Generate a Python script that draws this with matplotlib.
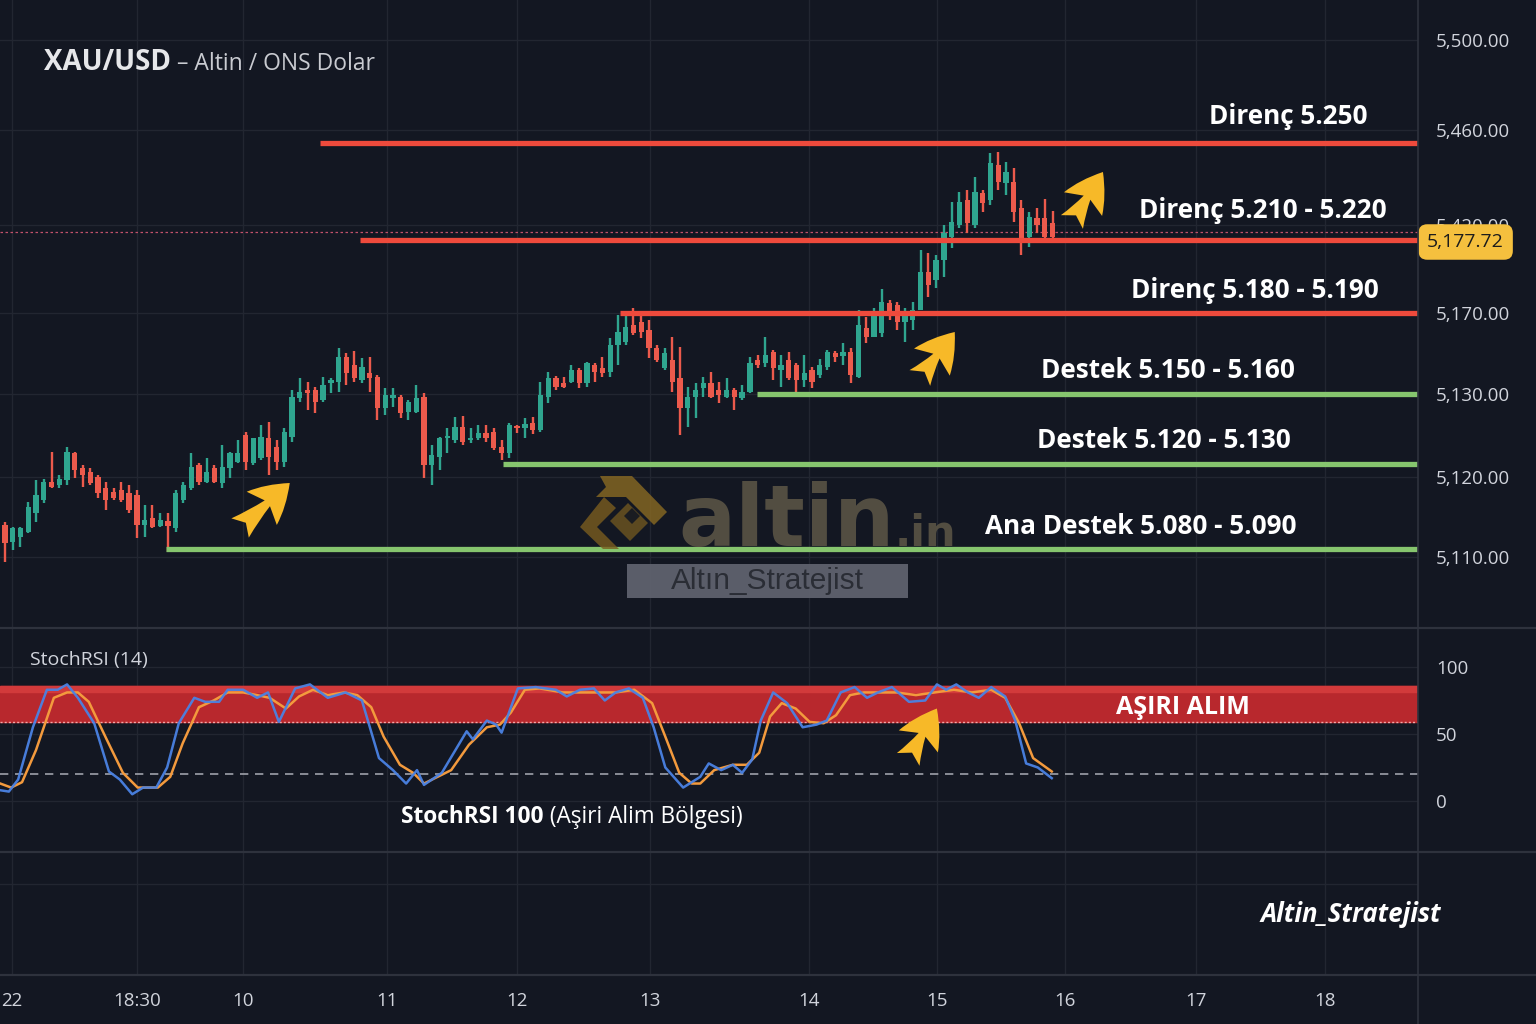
import numpy as np
import matplotlib
matplotlib.use("Agg")
import matplotlib.pyplot as plt
import matplotlib.transforms as mtransforms
from matplotlib.lines import Line2D
from matplotlib.patches import Polygon, Rectangle

plt.rcParams['font.family'] = ['Open Sans', 'DejaVu Sans']

# --- Velas XAU/USD (escala interna del eje de precios) ---
opens = [5257.5, 5249, 5251.5, 5254, 5263.5, 5270, 5279, 5277.5, 5280, 5293.5,
         5286, 5284, 5281.5, 5276, 5274, 5275, 5273.5, 5272.5, 5257.5, 5261,
         5257, 5259.5, 5256, 5270, 5276, 5287.5, 5279, 5286, 5278.5, 5286,
         5289, 5302.5, 5288.5, 5291, 5301, 5296.5, 5289, 5301.5, 5321, 5325,
         5325, 5320, 5328.5, 5329, 5341.5, 5337.5, 5330, 5333.5, 5331.5, 5316,
         5321, 5321.5, 5314, 5314, 5321.5, 5287.5, 5291.5, 5301, 5300, 5306.5,
         5300, 5301, 5303.5, 5304, 5296.5, 5293.5, 5307, 5306, 5308.5, 5305,
         5321.5, 5331, 5328.5, 5329, 5335, 5328.5, 5337.5, 5336, 5334, 5347.5,
         5349, 5357.5, 5359, 5355, 5346, 5336, 5340, 5331, 5316, 5321.5,
         5326, 5328.5, 5325, 5321.5, 5325, 5321, 5324, 5340, 5338.5, 5344,
         5335, 5340, 5337.5, 5330, 5335, 5332.5, 5336.5, 5343.5, 5342, 5344,
         5331.5, 5356, 5351.5, 5353.5, 5368.5, 5367.5, 5359, 5360, 5365, 5384,
         5380, 5390, 5401.5, 5407.5, 5420, 5407.5, 5423.5, 5420, 5437.5, 5428.5,
         5429, 5416, 5401.5, 5411, 5411, 5408.5]
highs = [5259, 5256.5, 5256.5, 5269, 5280, 5280.5, 5294, 5282.5, 5296.5, 5294,
         5287.5, 5286, 5282.5, 5279, 5276, 5279, 5277.5, 5275, 5267.5, 5267.5,
         5263.5, 5263.5, 5275, 5279, 5293.5, 5288.5, 5291, 5287.5, 5297.5, 5294,
         5300, 5304, 5301, 5307.5, 5309, 5300, 5306, 5325, 5331, 5329,
         5326.5, 5331.5, 5331, 5346, 5343.5, 5344.5, 5341, 5341.5, 5332.5, 5326,
         5326, 5322.5, 5320, 5327.5, 5323.5, 5297.5, 5301.5, 5306, 5311.5, 5312,
         5306, 5307.5, 5307.5, 5306, 5300, 5308.5, 5307.5, 5311, 5311.5, 5329,
         5334, 5332, 5331.5, 5337.5, 5336, 5339, 5338.5, 5341.5, 5351, 5362.5,
         5364, 5366, 5362.5, 5360, 5347.5, 5346, 5351.5, 5346.5, 5326.5, 5328.5,
         5331.5, 5334, 5329, 5331, 5326, 5327.5, 5341.5, 5342.5, 5351.5, 5345,
         5342.5, 5344, 5338.5, 5342.5, 5336.5, 5340.5, 5345, 5344.5, 5348.5, 5346,
         5365, 5361.5, 5366, 5375.5, 5370, 5369, 5366, 5369, 5395, 5393.5,
         5392.5, 5407.5, 5419, 5424, 5425, 5431.5, 5425, 5443.5, 5444, 5439,
         5436, 5420, 5414, 5416, 5420.5, 5414.5]
lows = [5239, 5245, 5246.5, 5253.5, 5259, 5268.5, 5276, 5276, 5277.5, 5281,
        5276.5, 5277.5, 5271, 5265, 5270, 5269, 5263.5, 5251, 5251.5, 5256,
        5256.5, 5244, 5254, 5268.5, 5275, 5277.5, 5278.5, 5278.5, 5276, 5281,
        5288.5, 5285, 5287.5, 5290, 5282.5, 5285, 5286.5, 5299, 5319, 5315,
        5313.5, 5319, 5323.5, 5324, 5327.5, 5329, 5328.5, 5324, 5310, 5312.5,
        5316.5, 5311, 5310, 5313.5, 5281, 5277.5, 5285, 5293.5, 5298.5, 5297.5,
        5298.5, 5300, 5299, 5295, 5290, 5291, 5303.5, 5301, 5303, 5304,
        5318.5, 5325, 5326, 5328.5, 5326, 5326.5, 5329, 5331.5, 5331.5, 5337.5,
        5347.5, 5352.5, 5351, 5341, 5339, 5335, 5324, 5302.5, 5306.5, 5311,
        5321.5, 5321, 5318.5, 5321, 5315, 5320, 5323.5, 5336, 5336.5, 5330,
        5326.5, 5330, 5323.5, 5326.5, 5326, 5331, 5335, 5339, 5337.5, 5328.5,
        5331, 5348.5, 5351.5, 5351.5, 5360, 5355, 5349, 5355, 5365, 5371.5,
        5376, 5381.5, 5396, 5406, 5403.5, 5406, 5414, 5417.5, 5425, 5422.5,
        5409, 5392.5, 5396.5, 5403.5, 5401, 5401]
closes = [5248.5, 5256, 5256, 5266.5, 5272.5, 5279, 5276.5, 5280.5, 5294, 5285,
          5282.5, 5278.5, 5273.5, 5270, 5271, 5270, 5265, 5257.5, 5260, 5256.5,
          5260, 5257, 5273.5, 5277.5, 5286.5, 5279, 5284, 5279, 5286.5, 5293.5,
          5293.5, 5289, 5301, 5301.5, 5291.5, 5289, 5304, 5321.5, 5324, 5323.5,
          5319, 5327.5, 5330, 5341.5, 5333.5, 5331, 5336.5, 5331, 5316, 5322.5,
          5322.5, 5313.5, 5319, 5321, 5287.5, 5292.5, 5301, 5302, 5306.5, 5299,
          5301, 5303.5, 5301, 5296, 5293.5, 5307.5, 5306, 5308, 5305, 5322.5,
          5331, 5326.5, 5326.5, 5335, 5328.5, 5338.5, 5334, 5333.5, 5347.5, 5354,
          5356.5, 5353.5, 5354, 5346, 5340, 5343.5, 5329, 5316, 5321.5, 5325,
          5328.5, 5321.5, 5322.5, 5325, 5321.5, 5324, 5338.5, 5337.5, 5342.5, 5336,
          5337.5, 5331, 5330, 5333.5, 5329, 5337.5, 5344, 5341.5, 5344, 5332.5,
          5357.5, 5351.5, 5362.5, 5369, 5364, 5359, 5362.5, 5365, 5384, 5377.5,
          5390, 5403.5, 5409, 5419, 5408.5, 5424, 5418.5, 5438.5, 5429, 5434,
          5414, 5401, 5411.5, 5407.5, 5401.5, 5401.5]

# eje de precios (las etiquetas del original no son lineales)
price_ticks = [5500, 5455, 5407.5, 5363.5, 5323, 5281.5, 5241.5]
price_labels = ['5,500.00', '5,460.00', '5,420.00', '5,170.00', '5,130.00', '5,120.00', '5,110.00']
last_price = 5404
last_price_label = '5,177.72'

# niveles de soporte / resistencia
level_names = ['Direnç 5.250', 'Direnç 5.210 - 5.220', 'Direnç 5.180 - 5.190',
               'Destek 5.150 - 5.160', 'Destek 5.120 - 5.130', 'Ana Destek 5.080 - 5.090']
level_values = [5448.5, 5400, 5363.5, 5323, 5288, 5245.5]
level_start = [40.6, 45.7, 79.3, 96.9, 64.2, 20.7]
level_is_res = [True, True, True, False, False, False]

# eje de tiempo
time_ticks = [0.9, 17, 30.7, 49.2, 66, 83.1, 103.6, 120.1, 136.6, 153.5, 170.1]
time_labels = ['22', '18:30', '10', '11', '12', '13', '14', '15', '16', '17', '18']

# StochRSI (14): %K azul y %D naranja
k_x = [-0.6, 0.5, 1.7, 3.6, 5.4, 6.8, 8.0, 9.4, 11.5, 13.4, 14.8, 16.4, 17.8, 19.5,
       20.9, 22.4, 24.4, 25.8, 27.6, 28.7, 30.7, 32.5, 33.9, 35.3, 37.4, 39.3, 41.6,
       43.9, 46.0, 48.2, 50.0, 51.7, 53.1, 54.0, 56.3, 59.5, 60.3, 62.1, 63.3, 64.0,
       66.1, 68.4, 71.0, 72.4, 74.1, 75.9, 77.3, 78.7, 80.4, 82.2, 83.6, 85.1, 87.4,
       89.6, 90.7, 92.3, 93.8, 95.0, 96.3, 97.4, 99.0, 100.8, 102.8, 104.6, 105.9,
       107.7, 109.5, 111.1, 112.5, 114.3, 116.5, 118.6, 120.1, 121.3, 122.6, 124.1,
       125.5, 127.1, 128.9, 130.2, 131.6, 133.1, 134.9]
k_val = [8, 7, 16, 55, 83, 83, 87, 77, 58, 22, 16, 5, 10, 10,
         25, 58, 77, 74, 74, 83, 83, 77, 81, 59, 84, 87, 77,
         81, 75, 32, 23, 13, 23, 12, 21, 52, 46, 60, 57, 51,
         84, 85, 83, 78, 83, 84, 75, 81, 84, 77, 55, 25, 10,
         18, 28, 23, 27, 21, 31, 60, 81, 73, 55, 57, 60,
         81, 85, 77, 81, 85, 74, 75, 87, 83, 87, 81,
         77, 85, 78, 60, 28, 25, 17]
d_x = [-0.6, 0.8, 2.2, 4.0, 6.3, 8.0, 9.4, 10.8, 13.1, 15.2, 17.1, 19.7, 21.3, 22.9,
       25.0, 26.9, 28.7, 30.7, 32.5, 34.1, 36.2, 37.9, 39.7, 41.6, 43.7, 45.4, 47.2,
       48.8, 50.9, 52.6, 54.0, 55.4, 57.5, 59.8, 62.1, 63.8, 65.2, 67.0, 68.9, 71.9,
       74.1, 76.4, 78.7, 81.1, 83.4, 85.1, 86.9, 88.5, 89.6, 91.4, 93.8, 95.6, 97.2,
       98.6, 100.1, 101.9, 103.7, 105.5, 107.1, 108.9, 110.7, 113.1, 114.9, 117.4,
       119.8, 122.3, 124.6, 127.1, 128.9, 130.7, 132.5, 134.9]
d_val = [13, 10, 14, 38, 77, 81, 81, 74, 46, 21, 10, 10, 18, 43,
         70, 75, 81, 81, 79, 77, 69, 78, 83, 79, 81, 79, 70,
         48, 27, 21, 13, 17, 23, 42, 55, 57, 66, 83, 84, 81,
         81, 81, 81, 83, 73, 48, 21, 13, 13, 23, 27, 27, 36,
         63, 73, 69, 59, 58, 64, 79, 81, 81, 81, 79,
         81, 83, 81, 83, 77, 58, 32, 22]
stoch_ticks = [100, 50, 0]
overbought_low, overbought_high = 59, 86
stoch_dash = 20

BG = '#131722'
GRID = '#222631'
SEP = '#2e323d'
TXT = '#d1d4dc'
GREEN = '#2fa58f'
RED = '#ec5a4c'
LVL_RED = '#ee4a3c'
LVL_GREEN = '#86c56e'
ARROW = '#f7b928'
XMIN, XMAX = -0.64, 182.1

fig = plt.figure(figsize=(15.36, 10.24), dpi=100, facecolor=BG)
W, H = 1536.0, 1024.0
RIGHT = 1418 / W


def fy(y):
    return 1 - y / H


ax = fig.add_axes([0, fy(628), RIGHT, fy(0) - fy(628)])
ax_st = fig.add_axes([0, fy(852), RIGHT, fy(628) - fy(852)])
ax_b = fig.add_axes([0, fy(975), RIGHT, fy(852) - fy(975)])

for a in (ax, ax_st, ax_b):
    a.set_facecolor(BG)
    a.set_axisbelow(True)
    for s in a.spines.values():
        s.set_visible(False)
    a.set_xlim(XMIN, XMAX)
    a.set_xticks(time_ticks)
    a.grid(True, axis='x', color=GRID, lw=1)
    a.tick_params(length=0, colors=TXT)

# --- panel principal ---
ax.set_ylim(5206, 5520)
ax.yaxis.tick_right()
ax.set_yticks(price_ticks)
ax.set_yticklabels(price_labels, fontsize=13.5, color=TXT)
ax.tick_params(axis='y', pad=13)
ax.set_xticklabels([])
ax.grid(True, axis='y', color=GRID, lw=1)

o = np.array(opens)
c = np.array(closes)
idx = np.arange(len(c))
cols = np.where(c >= o, GREEN, RED)
ax.vlines(idx, lows, highs, colors=cols, lw=1.7, zorder=3)
ax.bar(idx, np.maximum(np.abs(c - o), 0.9), bottom=np.minimum(o, c), width=0.68,
       color=cols, zorder=3)

ax.axhline(last_price, color='#c0506a', lw=0.9, dashes=(2, 2), zorder=2)
for name, val, x0, res in zip(level_names, level_values, level_start, level_is_res):
    ax.hlines(val, x0, XMAX, colors=LVL_RED if res else LVL_GREEN, lw=3.8, zorder=4)

label_pos = [(175.6, 5461.5), (178.0, 5414.5), (177.1, 5374.5),
             (166.2, 5334.5), (165.7, 5299.5), (166.5, 5257)]
for name, (lx, ly) in zip(level_names, label_pos):
    ax.text(lx, ly, name, ha='right', va='center', fontsize=18.8, fontweight='bold',
            color='white', zorder=6)

trans = mtransforms.blended_transform_factory(ax.transAxes, ax.transData)
ax.text(1.0065, 5399, last_price_label, transform=trans, ha='left', va='center',
        fontsize=14, color='#1c1c1c', zorder=10, clip_on=False,
        bbox=dict(boxstyle='round,pad=0.45', fc='#f5c03e', ec='none'))

arrow_style = dict(arrowstyle='fancy,head_length=0.8,head_width=0.95,tail_width=0.55',
                   fc=ARROW, ec='none', mutation_scale=34, shrinkA=0, shrinkB=0)
for tail, head in [((30.3, 5256), (36.7, 5278.5)), ((117.9, 5331), (122.4, 5354)),
                   ((137.5, 5409), (141.5, 5434))]:
    ax.annotate('', xy=head, xytext=tail, arrowprops=arrow_style, zorder=7)

# --- StochRSI ---
ax_st.set_ylim(-38.1, 129.1)
ax_st.yaxis.tick_right()
ax_st.set_yticks(stoch_ticks)
ax_st.set_yticklabels([str(t) for t in stoch_ticks], fontsize=13.5, color=TXT)
ax_st.tick_params(axis='y', pad=13)
ax_st.set_xticklabels([])
ax_st.grid(True, axis='y', color=GRID, lw=1)
ax_st.axhspan(overbought_low, overbought_high, color='#b8282d', zorder=1)
ax_st.axhspan(overbought_high - 5, overbought_high, color='#d23a3b', zorder=1)
ax_st.axhline(overbought_low, color='#f3a6a6', lw=1, dashes=(1.5, 1.5), zorder=2)
ax_st.axhline(stoch_dash, color='#9ea1aa', lw=1.2, dashes=(5, 4), zorder=2)
ax_st.plot(d_x, d_val, color='#f39a3d', lw=1.8, zorder=3)
ax_st.plot(k_x, k_val, color='#4a82e4', lw=1.8, zorder=3, alpha=0.95)
ax_st.text(151.8, 69.5, 'AŞIRI ALIM', ha='center', va='center', fontsize=18,
           fontweight='bold', color='white', zorder=5)
ax_st.text(0.021, 0.857, 'StochRSI (14)', transform=ax_st.transAxes, fontsize=14,
           color=TXT, va='center')
t1 = ax_st.text(0.283, 0.156, 'StochRSI 100', transform=ax_st.transAxes, fontsize=16.3,
                fontweight='bold', color='white', va='center')
ax_st.annotate(' (Aşiri Alim Bölgesi)', xy=(1, 0.5), xycoords=t1, va='center',
               fontsize=16.3, color='white')
ax_st.annotate('', xy=(120.1, 69), xytext=(116.4, 31), arrowprops=arrow_style, zorder=7)

# --- panel inferior ---
ax_b.set_ylim(0, 1)
ax_b.set_yticks([])
ax_b.set_xticklabels(time_labels, fontsize=13.5, color=TXT)
ax_b.tick_params(axis='x', pad=12)
ax_b.axhline(0.74, color=GRID, lw=1)

# separadores
for y in (628, 852, 975):
    fig.add_artist(Line2D([0, 1], [fy(y), fy(y)], transform=fig.transFigure, color=SEP, lw=1.6))
fig.add_artist(Line2D([RIGHT, RIGHT], [0, 1], transform=fig.transFigure, color=SEP, lw=1.2))

# títulos
fig.text(44 / W, fy(63), 'XAU/USD', fontsize=20, fontweight='bold', color='#e6e7ea', va='center')
fig.text(177 / W, fy(64), '– Altin / ONS Dolar', fontsize=16.5, color='#c9cbd1', va='center')
fig.text(1351 / W, fy(915), 'Altin_Stratejist', fontsize=18.5, fontweight='bold',
         fontstyle='italic', color='white', ha='center', va='center')


# marca de agua
def px(pts):
    return [(x / W, fy(y)) for x, y in pts]


logo = [
    [(600, 476), (632, 476), (667, 512), (654, 525), (626, 497), (596, 497), (606, 487)],
    [(604, 497), (616, 508), (597, 527), (619, 549), (603, 549), (580, 527)],
    [(628, 503), (648, 523), (630, 541), (610, 521)],
]
for pts, col in zip(logo, ['#8a6a22', '#7a5d1f', '#6f5620']):
    fig.add_artist(Polygon(px(pts), closed=True, transform=fig.transFigure,
                           fc=col, ec='none', alpha=0.8))
fig.add_artist(Polygon(px([(624, 516), (632, 508), (640, 516), (632, 524)]), closed=True,
                       transform=fig.transFigure, fc=BG, ec='none', alpha=0.9))
fig.text(678 / W, fy(546), 'altin', fontsize=61, fontweight='bold', family='DejaVu Sans',
         color='#5a5445', alpha=0.9, va='baseline')
fig.text(895 / W, fy(546), '.in', fontsize=31, fontweight='bold', family='DejaVu Sans',
         color='#5a5445', alpha=0.9, va='baseline')
fig.add_artist(Rectangle((627 / W, fy(598)), 281 / W, 34 / H, transform=fig.transFigure,
                         fc='#616470', ec='none', alpha=0.92))
fig.text(767 / W, fy(581), 'Altın_Stratejist', fontsize=21.5, family='Liberation Sans',
         color='#2a2d35', ha='center', va='center')

fig.savefig('out.png', dpi=100, facecolor=BG)
